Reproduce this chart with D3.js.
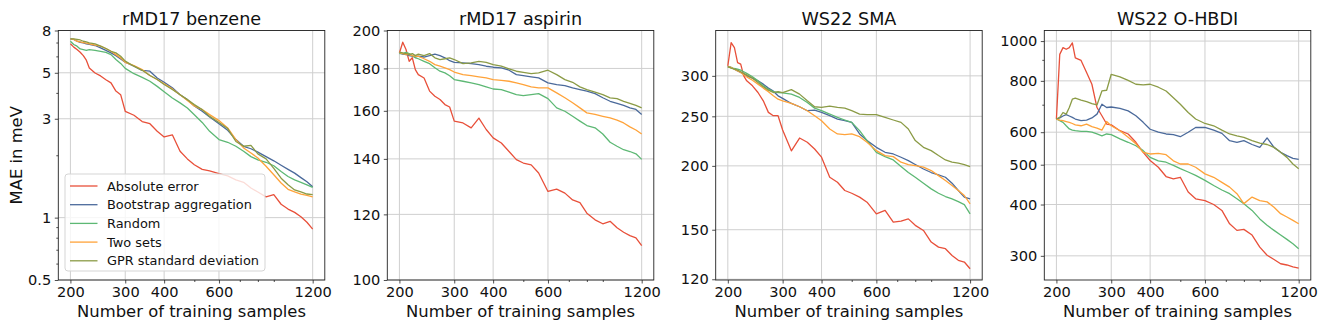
<!DOCTYPE html>
<html>
<head>
<meta charset="utf-8">
<script src="https://cdn.jsdelivr.net/npm/d3@7"></script>
<style>
  html, body { margin: 0; padding: 0; background: #fff; }
  svg { display: block; font-family: "DejaVu Sans", sans-serif; }
</style>
</head>
<body>
<svg id="chart" width="1329" height="332"></svg>
<script>
// ---------------- data ----------------
const nSamples = [200,205,210,215,220,225,230,240,250,260,270,280,290,300,320,340,360,380,400,425,450,475,500,530,560,600,640,680,720,760,800,850,900,950,1000,1050,1100,1150,1200];

const seriesNames = ["Absolute error", "Bootstrap aggregation", "Random", "Two sets", "GPR standard deviation"];

// rMD17 benzene
const benzeneAbs  = [6.90,6.65,6.47,6.28,6.05,5.75,5.28,4.99,4.83,4.63,4.47,4.08,3.92,3.26,3.12,2.91,2.84,2.61,2.45,2.51,2.09,1.92,1.80,1.71,1.68,1.63,1.59,1.52,1.48,1.39,1.33,1.26,1.29,1.16,1.10,1.06,1.01,0.95,0.88];
const benzeneBag  = [7.29,7.25,7.10,7.02,6.98,6.90,6.85,6.77,6.60,6.42,6.24,6.05,5.83,5.62,5.38,5.14,5.09,4.72,4.50,4.23,3.92,3.71,3.46,3.26,3.06,2.84,2.64,2.38,2.21,2.15,2.07,1.97,1.88,1.79,1.71,1.64,1.56,1.49,1.41];
const benzeneRand = [7.10,6.85,6.72,6.52,6.47,6.42,6.47,6.42,6.35,6.28,6.12,5.80,5.55,5.25,4.95,4.75,4.55,4.30,4.05,3.78,3.58,3.38,3.14,2.88,2.61,2.38,2.31,2.21,2.09,1.97,1.90,1.85,1.78,1.67,1.58,1.52,1.48,1.44,1.40];
const benzeneTwo  = [7.29,7.25,7.10,7.05,7.00,6.95,6.90,6.80,6.72,6.55,6.35,6.12,5.90,5.62,5.42,5.18,4.85,4.64,4.43,4.18,3.92,3.68,3.46,3.32,3.14,2.94,2.71,2.38,2.17,2.05,1.94,1.77,1.61,1.47,1.37,1.33,1.30,1.28,1.26];
const benzeneGpr  = [7.29,7.29,7.25,7.20,7.10,7.05,6.98,6.90,6.72,6.55,6.35,6.24,6.01,5.69,5.38,5.14,4.85,4.64,4.39,4.15,3.92,3.71,3.51,3.32,3.08,2.88,2.69,2.33,2.21,2.23,2.03,1.92,1.73,1.55,1.44,1.36,1.33,1.30,1.29];

// rMD17 aspirin
const aspirinAbs  = [187.9,193.6,189.7,183.6,185.4,179.4,176.9,175.3,169.0,166.6,165.1,162.8,161.7,155.5,154.7,152.6,156.8,151.9,148.4,146.3,142.9,139.7,138.4,137.7,134.6,127.9,128.7,127.3,124.9,124.0,120.4,118.2,116.9,117.7,115.6,114.2,113.1,112.4,110.0];
const aspirinBag  = [187.9,187.3,187.1,186.5,186.2,185.8,186.2,185.8,186.5,187.3,186.5,185.4,183.9,183.1,182.8,182.4,181.9,181.1,180.6,180.3,179.1,176.9,176.4,175.8,175.3,172.9,172.1,171.6,170.5,169.7,169.0,167.8,165.9,164.3,163.3,162.4,161.3,160.6,158.4];
const aspirinRand = [187.6,187.6,188.2,187.6,186.5,185.4,184.9,183.6,182.4,180.3,178.6,177.8,176.4,174.5,173.7,172.9,172.1,171.0,170.0,169.7,168.5,167.4,166.9,167.4,167.8,165.5,161.3,159.8,157.6,155.5,153.6,152.6,150.0,146.6,145.0,143.6,142.9,142.0,139.8];
const aspirinTwo  = [188.2,187.6,187.1,187.1,186.5,186.2,186.2,184.9,183.6,181.9,181.1,180.3,179.4,178.2,176.9,176.4,175.8,175.3,174.5,174.1,173.7,172.9,172.1,171.0,170.5,170.5,168.2,165.9,163.6,161.3,159.1,158.4,157.6,156.9,155.9,154.7,153.0,151.7,150.0];
const aspirinGpr  = [188.4,187.9,187.6,187.1,187.6,186.5,187.3,186.5,187.6,185.4,184.5,184.9,185.4,184.5,182.4,182.8,183.6,183.1,181.9,181.1,179.8,178.6,178.0,177.4,177.8,179.1,176.9,174.5,173.2,171.0,169.7,168.5,167.4,165.9,165.5,164.3,163.3,162.4,161.3];

// WS22 SMA
const smaAbs  = [313.8,348.5,340.8,318.5,316.2,300.0,293.3,286.8,278.3,268.1,254.5,250.7,250.7,235.0,214.0,226.7,222.4,215.8,208.0,190.0,185.8,179.0,176.8,173.7,169.8,161.1,163.6,155.2,155.9,157.5,153.0,149.5,141.9,138.7,137.7,133.6,130.7,129.7,125.8];
const smaBag  = [312.6,311.5,309.1,306.8,304.5,302.3,300.0,297.0,293.3,289.0,283.9,280.0,274.2,271.1,264.9,261.0,256.4,257.2,254.5,250.7,246.9,245.1,243.3,230.9,224.1,217.4,212.6,211.0,207.9,204.8,201.2,197.2,194.1,192.0,190.0,185.0,179.0,173.7,172.4];
const smaRand = [312.6,311.5,310.1,309.1,307.8,305.6,303.4,298.7,293.3,286.8,282.5,279.4,278.3,277.9,276.3,272.2,266.1,259.4,256.4,252.6,248.8,245.9,243.3,234.4,224.1,212.6,208.5,205.4,199.4,194.1,190.0,185.0,180.3,176.8,174.2,172.4,170.3,168.0,161.1];
const smaTwo  = [312.6,311.5,309.1,306.8,304.5,301.4,298.7,294.2,289.0,283.9,279.4,274.2,270.1,268.1,264.9,261.0,256.4,250.7,245.1,236.1,230.9,230.2,230.9,228.1,222.4,214.2,209.5,208.5,203.3,201.2,200.3,198.8,195.8,191.4,187.2,183.0,179.0,175.0,168.5];
const smaGpr  = [312.6,310.6,309.1,307.8,305.6,303.4,301.4,296.9,291.2,285.6,281.3,278.3,279.4,278.3,282.0,276.3,268.1,261.0,260.2,261.8,260.2,259.4,256.4,252.6,251.9,251.9,248.8,245.9,243.3,236.1,224.1,217.4,214.2,209.5,205.4,203.3,202.4,201.2,199.4];

// WS22 O-HBDI
const hbdiAbs  = [646,928,964,955,964,990,910,897,838,785,689,658,628,625,605,594,567,536,512,493,468,462,466,429,413,409,400,387,359,346,348,337,315,301,294,287,285,282,280];
const hbdiBag  = [646,650,657,662,657,652,646,640,642,650,664,702,689,691,686,676,658,634,610,600,594,592,585,600,616,616,607,596,572,567,572,560,551,581,551,536,526,518,515];
const hbdiRand = [646,640,634,622,611,607,605,603,603,600,594,588,594,592,578,567,556,541,521,511,507,498,489,480,471,458,445,434,425,413,402,387,369,356,346,337,329,321,312];
const hbdiTwo  = [646,642,640,637,634,630,625,622,628,619,614,607,637,622,605,583,562,536,531,533,529,511,502,502,493,475,466,453,441,425,402,417,409,406,394,380,373,366,359];
const hbdiGpr  = [646,652,670,664,689,722,726,718,712,704,699,756,759,830,818,802,785,782,785,772,756,728,702,670,646,630,622,607,594,588,583,572,564,560,551,536,521,502,489];

const panelTitles = ["rMD17 benzene", "rMD17 aspirin", "WS22 SMA", "WS22 O-HBDI"];

const xTickValues = [200, 300, 400, 600, 1200];
const xMinorTicks = [500, 700, 800, 900];

const benzeneYTicks = [0.5, 1, 3, 5, 8];
const aspirinYTicks = [100, 120, 140, 160, 180, 200];
const smaYTicks     = [120, 150, 200, 250, 300];
const hbdiYTicks    = [300, 400, 500, 600, 800, 1000];

const benzeneYMinor = [0.6, 0.7, 0.8, 0.9, 2, 4, 6, 7];
const aspirinYMinor = [];
const smaYMinor     = [];
const hbdiYMinor    = [700, 900];

const benzeneYLim = [0.5, 8];
const aspirinYLim = [100, 200];
const smaYLim     = [119.6, 368];
const hbdiYLim    = [262, 1061];

// ---------------- layout / style ----------------
const colors = ["#e8503a", "#4b6a9b", "#5db874", "#ffa33a", "#8b9b46"];
const panelLeft = [58.3, 387.3, 715.7, 1044.3];
const panelWidth = 266.5;
const plotTop = 30.5, plotBottom = 280;

const panels = [
  { title: panelTitles[0], series: [benzeneAbs, benzeneBag, benzeneRand, benzeneTwo, benzeneGpr], yTicks: benzeneYTicks, yMinor: benzeneYMinor, yLim: benzeneYLim },
  { title: panelTitles[1], series: [aspirinAbs, aspirinBag, aspirinRand, aspirinTwo, aspirinGpr], yTicks: aspirinYTicks, yMinor: aspirinYMinor, yLim: aspirinYLim },
  { title: panelTitles[2], series: [smaAbs, smaBag, smaRand, smaTwo, smaGpr], yTicks: smaYTicks, yMinor: smaYMinor, yLim: smaYLim },
  { title: panelTitles[3], series: [hbdiAbs, hbdiBag, hbdiRand, hbdiTwo, hbdiGpr], yTicks: hbdiYTicks, yMinor: hbdiYMinor, yLim: hbdiYLim },
];

const svg = d3.select("#chart");
const xMin = 200, xMax = 1200;
const xPad = Math.pow(xMax / xMin, 0.05);

function fmt(v) { return String(v); }

panels.forEach((p, i) => {
  const left = panelLeft[i], right = left + panelWidth;
  const x = d3.scaleLog().domain([xMin / xPad, xMax * xPad]).range([left, right]);
  const y = d3.scaleLog().domain(p.yLim).range([plotBottom, plotTop]);

  const g = svg.append("g");

  // grid
  g.append("g").selectAll("line").data(xTickValues).join("line")
    .attr("x1", d => x(d)).attr("x2", d => x(d)).attr("y1", plotTop).attr("y2", plotBottom)
    .attr("stroke", "#cfcfcf").attr("stroke-width", 1);
  g.append("g").selectAll("line").data(p.yTicks).join("line")
    .attr("x1", left).attr("x2", right).attr("y1", d => y(d)).attr("y2", d => y(d))
    .attr("stroke", "#cfcfcf").attr("stroke-width", 1);

  // clip
  const clipId = "clip" + i;
  svg.append("clipPath").attr("id", clipId).append("rect")
    .attr("x", left).attr("y", plotTop).attr("width", panelWidth).attr("height", plotBottom - plotTop);

  const line = d3.line().x((d, j) => x(nSamples[j])).y(d => y(d));
  const lg = g.append("g").attr("clip-path", `url(#${clipId})`);
  p.series.forEach((s, k) => {
    lg.append("path").datum(s).attr("d", line)
      .attr("fill", "none").attr("stroke", colors[k]).attr("stroke-width", 1.3)
      .attr("stroke-linejoin", "round");
  });

  // axes
  const xAxis = d3.axisBottom(x).tickValues(xTickValues).tickFormat(fmt).tickSize(3.5).tickPadding(3.5);
  const xAxisMinor = d3.axisBottom(x).tickValues(xMinorTicks).tickFormat("").tickSize(2);
  const yAxis = d3.axisLeft(y).tickValues(p.yTicks).tickFormat(fmt).tickSize(3.5).tickPadding(3.5);
  const yAxisMinor = d3.axisLeft(y).tickValues(p.yMinor).tickFormat("").tickSize(2);

  const gx = g.append("g").attr("transform", `translate(0,${plotBottom})`).call(xAxis);
  const gxm = g.append("g").attr("transform", `translate(0,${plotBottom})`).call(xAxisMinor);
  const gy = g.append("g").attr("transform", `translate(${left},0)`).call(yAxis);
  const gym = g.append("g").attr("transform", `translate(${left},0)`).call(yAxisMinor);
  [gx, gxm, gy, gym].forEach(a => {
    a.select(".domain").remove();
    a.selectAll(".tick line").attr("stroke", "#222").attr("stroke-width", 0.8);
    a.selectAll(".tick text").attr("fill", "#111").style("font-size", "14.6px").style("font-family", "DejaVu Sans");
  });

  // frame
  g.append("rect").attr("x", left).attr("y", plotTop).attr("width", panelWidth).attr("height", plotBottom - plotTop)
    .attr("fill", "none").attr("stroke", "#222").attr("stroke-width", 0.9);

  // title
  g.append("text").attr("x", (left + right) / 2).attr("y", 25).attr("text-anchor", "middle")
    .style("font-size", "17.6px").attr("fill", "#111").text(p.title);

  // x label
  g.append("text").attr("x", (left + right) / 2).attr("y", 317).attr("text-anchor", "middle")
    .style("font-size", "16.4px").attr("fill", "#111").text("Number of training samples");

  if (i === 0) {
    g.append("text").attr("transform", `translate(22,${(plotTop + plotBottom) / 2}) rotate(-90)`)
      .attr("text-anchor", "middle").style("font-size", "16.4px").attr("fill", "#111").text("MAE in meV");

    // legend
    const lgd = g.append("g");
    lgd.append("rect").attr("x", 65).attr("y", 174).attr("width", 200).attr("height", 97)
      .attr("rx", 3).attr("fill", "#fff").attr("fill-opacity", 0.8).attr("stroke", "#d5d5d5").attr("stroke-width", 1);
    seriesNames.forEach((name, k) => {
      const cy = 186 + k * 18.7;
      lgd.append("line").attr("x1", 70).attr("x2", 97.5).attr("y1", cy).attr("y2", cy)
        .attr("stroke", colors[k]).attr("stroke-width", 1.3);
      lgd.append("text").attr("x", 107).attr("y", cy + 4.6).style("font-size", "12.9px").attr("fill", "#111").text(name);
    });
  }
});
</script>
</body>
</html>
